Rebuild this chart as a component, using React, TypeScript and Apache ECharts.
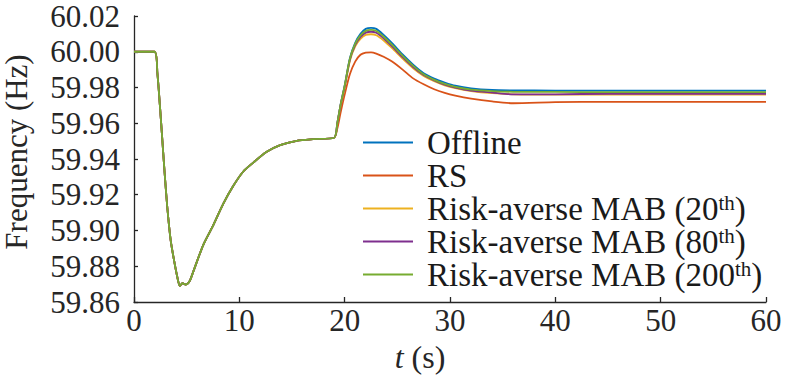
import React, { useEffect, useRef } from "react";
import * as echarts from "echarts";

// Shared pre-disturbance / recovery section (identical for all methods)
const commonTimes = [0, 1.95, 2.22, 2.47, 2.69, 2.91, 3.16, 3.48, 3.8, 4.11, 4.35, 4.6, 4.9, 5.15, 5.35, 5.63, 6.58, 7.53, 8.48, 9.43, 10.38, 11.33, 12.6, 13.87, 15.45, 17.0, 19.0];
const commonFreq = [60.0, 60.0, 59.988, 59.969, 59.9506, 59.932, 59.913, 59.8946, 59.8834, 59.874, 59.869, 59.8705, 59.8698, 59.8705, 59.8725, 59.877, 59.892, 59.903, 59.915, 59.925, 59.933, 59.938, 59.944, 59.9478, 59.9502, 59.9511, 59.9519];

// Section after the second event (t >= 19.3 s)
const tailTimes = [19.3, 19.6, 20.0, 20.5, 21.0, 21.5, 22.0, 22.5, 23.0, 23.7, 24.5, 25.5, 26.5, 27.5, 28.5, 29.5, 30.5, 32, 34, 36, 40, 45, 50, 55, 60];
const offlineTail = [59.96, 59.97, 59.981, 59.9965, 60.005, 60.01, 60.0128, 60.0134, 60.0128, 60.0094, 60.0048, 59.9985, 59.9928, 59.988, 59.985, 59.9828, 59.981, 59.9795, 59.9786, 59.9784, 59.9783, 59.9782, 59.9782, 59.9782, 59.9782];
const rsTail = [59.957, 59.9655, 59.976, 59.9875, 59.9945, 59.9983, 59.9995, 59.9997, 59.999, 59.9972, 59.9945, 59.99, 59.9851, 59.9818, 59.979, 59.977, 59.9755, 59.9738, 59.9722, 59.9712, 59.9718, 59.972, 59.972, 59.972, 59.972];
const mab20Tail = [59.9598, 59.9695, 59.98, 59.995, 60.003, 60.0072, 60.0094, 60.0098, 60.0092, 60.0063, 60.002, 59.9962, 59.9908, 59.9865, 59.9835, 59.9812, 59.9796, 59.978, 59.9768, 59.9762, 59.976, 59.976, 59.976, 59.976, 59.976];
const mab80Tail = [59.96, 59.9698, 59.9806, 59.9957, 60.0038, 60.0083, 60.0107, 60.0112, 60.0106, 60.0075, 60.003, 59.997, 59.9915, 59.987, 59.984, 59.9816, 59.98, 59.9783, 59.9772, 59.9762, 59.9762, 59.9765, 59.9765, 59.9765, 59.9765];
const mab200Tail = [59.96, 59.97, 59.981, 59.9962, 60.0045, 60.0092, 60.0117, 60.0122, 60.0116, 60.0084, 60.0038, 59.9977, 59.9921, 59.9874, 59.9843, 59.982, 59.9803, 59.9788, 59.978, 59.9776, 59.9775, 59.9774, 59.9774, 59.9774, 59.9774];

const seriesNames = ["Offline", "RS", "Risk-averse MAB (20th)", "Risk-averse MAB (80th)", "Risk-averse MAB (200th)"];
const seriesTails = [offlineTail, rsTail, mab20Tail, mab80Tail, mab200Tail];
const seriesColors = ["#0072BD", "#D95319", "#EDB120", "#7E2F8E", "#77AC30"];

const yTicks = ["59.86", "59.88", "59.90", "59.92", "59.94", "59.96", "59.98", "60.00", "60.02"];
const xTicks = [0, 10, 20, 30, 40, 50, 60];

const FONT = "Liberation Serif";
const AXIS_COLOR = "#262626";

export default function App() {
  const ref = useRef<HTMLDivElement>(null);

  useEffect(() => {
    if (!ref.current) return;
    const chart = echarts.init(ref.current, undefined, { renderer: "svg" });

    const times = commonTimes.concat(tailTimes);
    const series = seriesNames.map((name, i) => {
      const vals = commonFreq.concat(seriesTails[i]);
      return {
        name,
        type: "line",
        data: times.map((t, k) => [t, vals[k]]),
        showSymbol: false,
        smooth: 0.25,
        lineStyle: { color: seriesColors[i], width: 1.8 },
        itemStyle: { color: seriesColors[i] },
      };
    });

    chart.setOption({
      animation: false,
      backgroundColor: "#ffffff",
      grid: { left: 134, right: 19, top: 16, bottom: 81, containLabel: false, outerBoundsMode: "none" },
      legend: {
        orient: "vertical",
        left: 363,
        top: 126,
        padding: 0,
        itemWidth: 50,
        itemHeight: 2,
        itemGap: 0,
        icon: "rect",
        formatter: (name: string) => name.replace(/\((\d+)th\)/, "($1{sup|th})"),
        textStyle: {
          fontFamily: FONT,
          fontSize: 33,
          color: "#1a1a1a",
          lineHeight: 31.7,
          padding: [0, 0, 0, 9],
          rich: {
            sup: { fontFamily: FONT, fontSize: 21, verticalAlign: "top", lineHeight: 31.7, color: "#1a1a1a" },
          },
        },
        data: seriesNames,
      },
      xAxis: {
        type: "value",
        min: 0,
        max: 60,
        interval: 10,
        name: "{i|t} (s)",
        nameLocation: "middle",
        nameGap: 26,
        nameTextStyle: {
          fontFamily: FONT,
          fontSize: 32,
          color: AXIS_COLOR,
          padding: [0, 60, 0, 0],
          rich: { i: { fontFamily: FONT, fontSize: 32, fontStyle: "italic", color: AXIS_COLOR } },
        },
        axisLine: { show: true, lineStyle: { color: AXIS_COLOR, width: 1.3 } },
        axisTick: { show: true, inside: true, length: 5, lineStyle: { color: AXIS_COLOR, width: 1.3 } },
        axisLabel: {
          fontFamily: FONT,
          fontSize: 31,
          color: AXIS_COLOR,
          margin: 3,
          formatter: (v: number) => (xTicks.includes(v) ? String(v) : ""),
        },
        splitLine: { show: false },
      },
      yAxis: {
        type: "value",
        min: 59.86,
        max: 60.02,
        interval: 0.02,
        name: "Frequency (Hz)",
        nameLocation: "middle",
        nameGap: 102,
        nameRotate: 90,
        nameTextStyle: { fontFamily: FONT, fontSize: 31, color: AXIS_COLOR, padding: [0, 0, 0, 14] },
        axisLine: { show: true, lineStyle: { color: AXIS_COLOR, width: 1.3 } },
        axisTick: { show: true, inside: true, length: 4, lineStyle: { color: AXIS_COLOR, width: 1.3 } },
        axisLabel: {
          fontFamily: FONT,
          fontSize: 31,
          color: AXIS_COLOR,
          margin: 14,
          formatter: (v: number) => {
            const s = v.toFixed(2);
            return yTicks.includes(s) ? s : "";
          },
        },
        splitLine: { show: false },
      },
      series,
    });

    return () => chart.dispose();
  }, []);

  return (
    <div
      ref={ref}
      style={{ position: "fixed", left: 0, top: 0, width: 785, height: 383, background: "#fff" }}
    />
  );
}
